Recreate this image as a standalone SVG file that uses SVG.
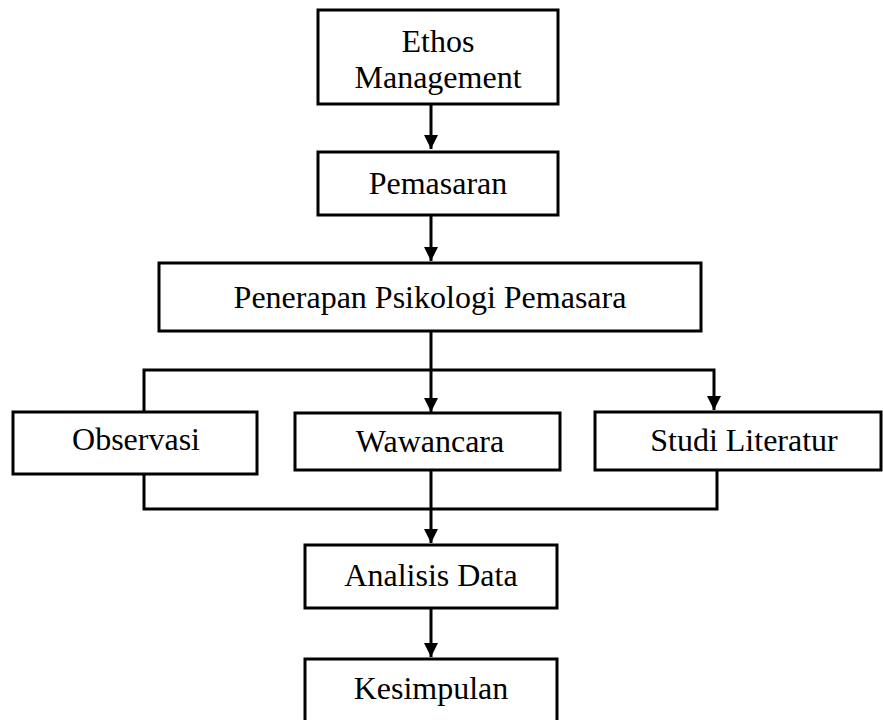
<svg xmlns="http://www.w3.org/2000/svg" width="883" height="720" viewBox="0 0 883 720">
<defs>
<style>
.box{fill:#fff;stroke:#000;stroke-width:3}
.lbl{font-family:"Liberation Serif","Times New Roman",serif;font-size:32px;fill:#000;text-anchor:middle}
.ln{fill:none;stroke:#000;stroke-width:3}
</style>
<marker id="ah" viewBox="0 0 10 10" refX="10" refY="5" markerWidth="14" markerHeight="14" markerUnits="userSpaceOnUse" orient="auto">
<path d="M0,0 L10,5 L0,10 Z" fill="#000"/>
</marker>
</defs>
<g id="connectors">
<line class="ln" x1="431" y1="104" x2="431" y2="149" marker-end="url(#ah)"/>
<line class="ln" x1="431" y1="215" x2="431" y2="261" marker-end="url(#ah)"/>
<line class="ln" x1="431" y1="331" x2="431" y2="370"/>
<polyline class="ln" points="144,411 144,370 714,370 714,410" marker-end="url(#ah)"/>
<line class="ln" x1="431" y1="370" x2="431" y2="412" marker-end="url(#ah)"/>
<polyline class="ln" points="144,474 144,509 717,509 717,470"/>
<line class="ln" x1="431" y1="470" x2="431" y2="543" marker-end="url(#ah)"/>
<line class="ln" x1="431" y1="608" x2="431" y2="657" marker-end="url(#ah)"/>
</g>
<g id="ethos"><rect class="box" x="318" y="10" width="240" height="94"/><text class="lbl" x="438" y="52">Ethos</text><text class="lbl" x="438" y="88">Management</text></g>
<g id="pemasaran"><rect class="box" x="318" y="152" width="240" height="63"/><text class="lbl" x="438" y="194">Pemasaran</text></g>
<g id="penerapan"><rect class="box" x="159" y="263" width="542" height="68"/><text class="lbl" x="430" y="308">Penerapan Psikologi Pemasara</text></g>
<g id="observasi"><rect class="box" x="13" y="412" width="244" height="62"/><text class="lbl" x="136" y="450">Observasi</text></g>
<g id="wawancara"><rect class="box" x="295" y="413" width="265" height="57"/><text class="lbl" x="430" y="452">Wawancara</text></g>
<g id="studi"><rect class="box" x="595" y="412" width="286" height="58"/><text class="lbl" x="744" y="451">Studi Literatur</text></g>
<g id="analisis"><rect class="box" x="305" y="545" width="252" height="63"/><text class="lbl" x="431" y="586">Analisis Data</text></g>
<g id="kesimpulan"><rect class="box" x="305" y="659" width="252" height="70"/><text class="lbl" x="431" y="699">Kesimpulan</text></g>
</svg>
